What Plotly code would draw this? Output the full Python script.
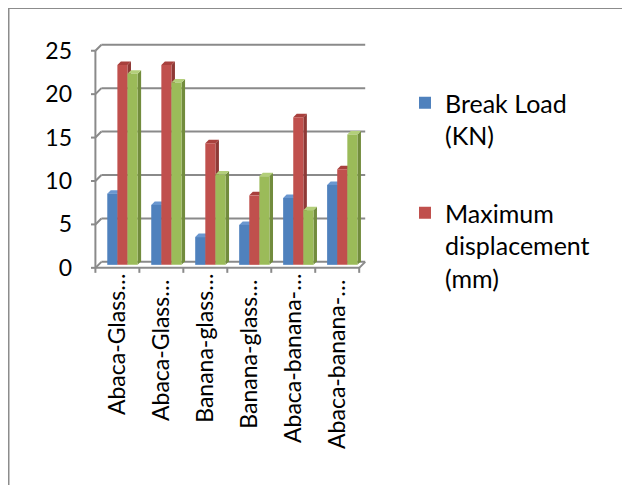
import plotly.graph_objects as go

categories = ["Abaca-Glass\u2026", "Abaca-Glass\u2026 ", "Banana-glass\u2026", "Banana-glass\u2026 ",
              "Abaca-banana-\u2026", "Abaca-banana-\u2026 "]
break_load = [8.2, 6.9, 3.2, 4.6, 7.7, 9.2]
max_disp = [23, 23, 14, 8, 17, 11]
third_series = [22, 21, 10.4, 10.2, 6.3, 15]
y_ticks = [0, 5, 10, 15, 20, 25]

series = [
    ("Break Load<br>(KN)", break_load, "#4F81BD", "#3B6597", "#6A97D0", True),
    ("Maximum<br>displacement<br>(mm)", max_disp, "#C0504D", "#8E3936", "#A8403D", True),
    ("Series3", third_series, "#9BBB59", "#728C3D", "#B3CF7A", False),
]

W, H = 630, 485
O = 8  # page body offset compensation
L, R, T, B = 91 - O, 262 + O, 43 - O, 211 + O
FONT = "Lato"
GRID = "#8A8A8A"

xr = [-0.6, 5.7]
yr = [-1.4, 25.2]
kx = (W - L - R) / (xr[1] - xr[0])
ky = (H - T - B) / (yr[1] - yr[0])
DXW = 6 / kx
DYW = 6 / ky
DXB = 3.5 / kx
DYB = 3.5 / ky
BASE = -DYW / 2
BW = 0.23
offsets = [-0.23, 0.0, 0.23]

fig = go.Figure()
idx = list(range(len(categories)))

shapes = []
for t in y_ticks:
    shapes.append(dict(type="line", xref="x", yref="y", x0=-0.5 + DXW, x1=5.5 + DXW, y0=t, y1=t,
                       line=dict(color=GRID, width=2), layer="below"))
    shapes.append(dict(type="line", xref="x", yref="y", x0=-0.5, x1=-0.5 + DXW, y0=t - DYW, y1=t,
                       line=dict(color=GRID, width=2), layer="below"))
    shapes.append(dict(type="line", xref="x", yref="y", x0=-0.5 - 9 / kx, x1=-0.5, y0=t - DYW, y1=t - DYW,
                       line=dict(color=GRID, width=2), layer="below"))
shapes.append(dict(type="line", xref="x", yref="y", x0=-0.5, x1=-0.5, y0=-DYW, y1=y_ticks[-1] - DYW,
                   line=dict(color=GRID, width=2), layer="below"))
shapes.append(dict(type="line", xref="x", yref="y", x0=-0.5, x1=5.5, y0=-DYW, y1=-DYW,
                   line=dict(color=GRID, width=2), layer="below"))
shapes.append(dict(type="line", xref="x", yref="y", x0=5.5, x1=5.5 + DXW, y0=-DYW, y1=0,
                   line=dict(color=GRID, width=2), layer="below"))
for k in range(len(categories) + 1):
    shapes.append(dict(type="line", xref="x", yref="y", x0=k - 0.5, x1=k - 0.5, y0=-DYW, y1=-DYW - 5 / ky,
                       line=dict(color=GRID, width=2), layer="below"))

for (name, vals, col, side, cap, _), off in zip(series, offsets):
    for i, v in enumerate(vals):
        xl = i + off
        xrt = xl + BW
        top = BASE + v
        shapes.append(dict(type="path", xref="x", yref="y", layer="below", line=dict(width=0),
                           fillcolor=side,
                           path=f"M{xrt},{BASE} L{xrt},{top} L{xrt + DXB},{top + DYB} L{xrt + DXB},{BASE + DYB} Z"))
        shapes.append(dict(type="path", xref="x", yref="y", layer="below", line=dict(width=0),
                           fillcolor=cap,
                           path=f"M{xl},{top} L{xrt},{top} L{xrt + DXB},{top + DYB} L{xl + DXB},{top + DYB} Z"))

for k, ((name, vals, col, side, cap, show), off) in enumerate(zip(series, offsets)):
    fig.add_trace(go.Bar(
        x=idx, y=vals, base=BASE, name=name, width=BW, offset=off,
        marker=dict(color=col, line=dict(width=0)), showlegend=show,
        legendgroup=f"g{k}",
    ))

pw, ph = W - L - R, H - T - B
def px2x(p):
    return (p - O - L) / pw
def py2y(p):
    return (H - B - (p - O)) / ph
shapes.append(dict(type="rect", xref="paper", yref="paper", x0=px2x(8.5), x1=px2x(660),
                   y0=py2y(510), y1=py2y(8), line=dict(color="#8C8C8C", width=2), layer="below"))

fig.add_trace(go.Scatter(x=[0], y=[0], yaxis="y2", mode="markers", marker=dict(opacity=0),
                         showlegend=False, hoverinfo="skip"))

fig.update_layout(
    width=W, height=H, margin=dict(l=L, r=R, t=T, b=B),
    paper_bgcolor="white", plot_bgcolor="rgba(0,0,0,0)",
    barmode="overlay",
    font=dict(family=FONT, color="#000000", size=23),
    xaxis=dict(type="linear", range=xr, tickmode="array", tickvals=idx, ticktext=categories,
               tickangle=-90, showgrid=False, zeroline=False, showline=False, ticks="",
               tickfont=dict(size=23, family=FONT), ticklabelstandoff=-6, automargin=False),
    yaxis=dict(range=yr, showgrid=False, zeroline=False, showline=False, showticklabels=False, ticks="",
               automargin=False),
    yaxis2=dict(range=[yr[0] + DYW, yr[1] + DYW], overlaying="y", side="left", showgrid=False,
                zeroline=False, showline=False, ticks="", tickvals=y_ticks,
                tickfont=dict(size=23, family=FONT), ticklabelstandoff=18, automargin=False),
    legend=dict(xref="container", yref="container", x=(405 - O) / W, y=1 - (80 - O) / H,
                xanchor="left", yanchor="top", valign="top", traceorder="grouped",
                tracegroupgap=42, font=dict(size=25, family=FONT), bgcolor="rgba(0,0,0,0)"),
    shapes=shapes,
)

fig.write_html("out.html")
